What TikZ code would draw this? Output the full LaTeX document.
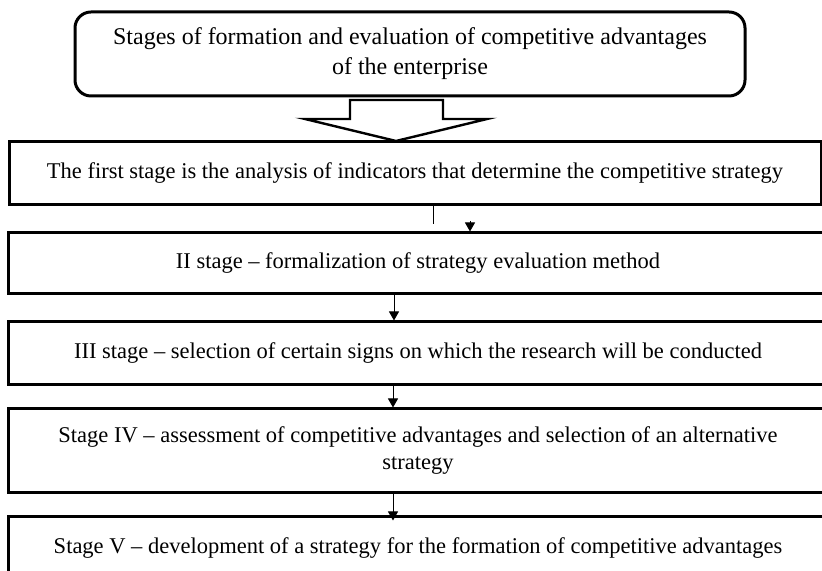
\documentclass[tikz,border=0pt]{standalone}
\usepackage{fontspec}
\setmainfont{Liberation Serif}
\usetikzlibrary{arrows.meta}

\begin{document}
\begin{tikzpicture}[x=1pt, y=1pt,
	stagebox/.style={draw, line width=1.5pt, minimum height=31.5pt, inner sep=0pt, align=center, font=\fontsize{11.25}{13.5}\selectfont},
	thinarrow/.style={line width=0.5pt, -{Triangle[length=4.5pt, width=5pt]}}]
	\useasboundingbox (0,0) rectangle (411,285.5);

	\node[draw, rounded corners=8pt, line width=1.5pt, minimum width=335pt, minimum height=42pt, align=center, font=\fontsize{12}{15}\selectfont] (title) at (205, 258.5) {Stages of formation and evaluation of competitive advantages\\of the enterprise};

	% Hollow arrow under the title
	\draw[line width=1.2pt, line join=miter] (175,235.5) -- (221.5,235.5) -- (221.5,226) -- (243.5,226) -- (198,215) -- (152.5,226) -- (175,226) -- cycle;

	\node[stagebox, minimum width=406pt] (s1) at (207.5, 198.75) {The first stage is the analysis of indicators that determine the competitive strategy};
	\node[stagebox, minimum width=410pt, minimum height=30.5pt] (s2) at (209, 153.75) {II stage – formalization of strategy evaluation method};
	\node[stagebox, minimum width=410pt] (s3) at (209, 108.75) {III stage – selection of certain signs on which the research will be conducted};
	\node[stagebox, minimum width=410pt, minimum height=42pt] (s4) at (209, 60) {Stage IV – assessment of competitive advantages and selection of an alternative\\strategy};
	\node[stagebox, minimum width=410pt] (s5) at (209, 11.25) {Stage V – development of a strategy for the formation of competitive advantages};

	% Connectors between the stages
	\coordinate (k1) at ([xshift=9pt, yshift=-9pt]s1.south);
	\draw[line width=0.5pt] ([xshift=9pt]s1.south) -- (k1);
	\coordinate (k2) at ([xshift=26pt, yshift=5pt]s2.north);
	\draw[thinarrow] (k2) -- ([xshift=26pt]s2.north);
	\draw[thinarrow] ([xshift=-12pt]s2.south) -- ([xshift=-12pt]s3.north);
	\draw[thinarrow] ([xshift=-12.5pt]s3.south) -- ([xshift=-12.5pt]s4.north);
	\draw[thinarrow] ([xshift=-12.5pt]s4.south) -- ([xshift=-12.5pt, yshift=-2.5pt]s5.north);
\end{tikzpicture}
\end{document}
